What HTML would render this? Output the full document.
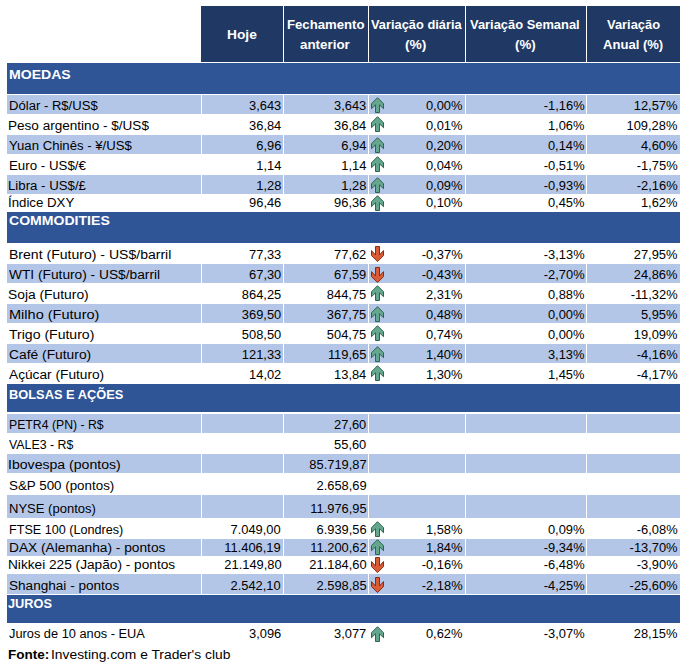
<!DOCTYPE html>
<html><head><meta charset="utf-8"><style>
html,body{margin:0;padding:0;background:#fff;width:693px;height:668px;overflow:hidden;position:relative}
.r{position:absolute}
.t{position:absolute;font-family:"Liberation Sans",sans-serif;font-size:12.5px;line-height:normal;white-space:nowrap;color:#000}
.b{font-weight:bold}
.ar{position:absolute;overflow:visible}
</style></head><body>
<div class="r" style="left:201px;top:6px;width:479px;height:56px;background:#1F3864"></div>
<div class="r" style="left:283px;top:6px;width:1px;height:56px;background:#fff"></div>
<div class="r" style="left:368px;top:6px;width:1px;height:56px;background:#fff"></div>
<div class="r" style="left:465px;top:6px;width:1px;height:56px;background:#fff"></div>
<div class="r" style="left:586px;top:6px;width:1px;height:56px;background:#fff"></div>
<div class="t b" style="left:227.26px;top:26.93px;transform:scaleX(1.0566);transform-origin:left;font-size:13px;color:#fff">Hoje</div>
<div class="t b" style="left:286.72px;top:17.13px;transform:scaleX(1.0128);transform-origin:left;font-size:13px;color:#fff">Fechamento</div>
<div class="t b" style="left:300.15px;top:36.63px;transform:scaleX(1.0289);transform-origin:left;font-size:13px;color:#fff">anterior</div>
<div class="t b" style="left:370.51px;top:16.53px;transform:scaleX(0.9874);transform-origin:left;font-size:13px;color:#fff">Variação diária</div>
<div class="t b" style="left:405.34px;top:36.84px;transform:scaleX(1.0600);transform-origin:left;font-size:13px;color:#fff">(%)</div>
<div class="t b" style="left:470.43px;top:16.53px;transform:scaleX(0.9919);transform-origin:left;font-size:13px;color:#fff">Variação Semanal</div>
<div class="t b" style="left:514.93px;top:36.84px;transform:scaleX(1.0208);transform-origin:left;font-size:13px;color:#fff">(%)</div>
<div class="t b" style="left:607.13px;top:16.53px;transform:scaleX(0.9914);transform-origin:left;font-size:13px;color:#fff">Variação</div>
<div class="t b" style="left:602.98px;top:36.84px;transform:scaleX(1.0043);transform-origin:left;font-size:13px;color:#fff">Anual (%)</div>
<div class="r" style="left:7px;top:63px;width:673px;height:31px;background:#2F5597"></div>
<div class="t b" style="left:8.76px;top:67.23px;transform:scaleX(1.0821);transform-origin:left;font-size:13px;color:#fff">MOEDAS</div>
<div class="r" style="left:7px;top:212px;width:673px;height:31px;background:#2F5597"></div>
<div class="t b" style="left:8.85px;top:213.14px;transform:scaleX(1.0817);transform-origin:left;font-size:13px;color:#fff">COMMODITIES</div>
<div class="r" style="left:7px;top:384px;width:673px;height:28px;background:#2F5597"></div>
<div class="t b" style="left:8.64px;top:387.44px;transform:scaleX(0.9873);transform-origin:left;font-size:13px;color:#fff">BOLSAS E AÇÕES</div>
<div class="r" style="left:7px;top:595px;width:673px;height:28px;background:#2F5597"></div>
<div class="t b" style="left:8.28px;top:595.53px;transform:scaleX(0.9829);transform-origin:left;font-size:13px;color:#fff">JUROS</div>
<div class="r" style="left:7px;top:95px;width:673px;height:19px;background:#B4C6E7"></div>
<div class="r" style="left:201px;top:95px;width:1px;height:19px;background:#fff"></div>
<div class="r" style="left:283px;top:95px;width:1px;height:19px;background:#fff"></div>
<div class="r" style="left:368px;top:95px;width:1px;height:19px;background:#fff"></div>
<div class="r" style="left:465px;top:95px;width:1px;height:19px;background:#fff"></div>
<div class="r" style="left:586px;top:95px;width:1px;height:19px;background:#fff"></div>
<div class="t" style="left:8.59px;top:98.99px;transform:scaleX(1.0464);transform-origin:left;color:#000">Dólar - R$/US$</div>
<div class="t" style="right:411.90px;top:98.99px;transform:scaleX(1.0300);transform-origin:right;color:#000">3,643</div>
<div class="t" style="right:326.30px;top:98.99px;transform:scaleX(1.0300);transform-origin:right;color:#000">3,643</div>
<div class="t" style="right:230.10px;top:98.99px;transform:scaleX(1.0300);transform-origin:right;color:#000">0,00%</div>
<div class="t" style="right:108.70px;top:98.99px;transform:scaleX(1.0300);transform-origin:right;color:#000">-1,16%</div>
<div class="t" style="right:15.50px;top:98.99px;transform:scaleX(1.0300);transform-origin:right;color:#000">12,57%</div>
<svg class="ar" style="left:370px;top:96px" width="15" height="18" viewBox="0 0 15 18"><path d="M7.5 1.7 L13.5 7.7 L13.5 12.7 L9.5 8.8 L9.5 16.5 L5.5 16.5 L5.5 8.8 L1.5 12.7 L1.5 7.7 Z" fill="#64A78E" stroke="#2E644D" stroke-width="1" stroke-linejoin="miter"/></svg>
<div class="t" style="left:8.45px;top:119.29px;transform:scaleX(1.0845);transform-origin:left;color:#000">Peso argentino - $/US$</div>
<div class="t" style="right:411.90px;top:119.29px;transform:scaleX(1.0300);transform-origin:right;color:#000">36,84</div>
<div class="t" style="right:326.30px;top:119.29px;transform:scaleX(1.0300);transform-origin:right;color:#000">36,84</div>
<div class="t" style="right:230.10px;top:119.29px;transform:scaleX(1.0300);transform-origin:right;color:#000">0,01%</div>
<div class="t" style="right:108.70px;top:119.29px;transform:scaleX(1.0300);transform-origin:right;color:#000">1,06%</div>
<div class="t" style="right:15.50px;top:119.29px;transform:scaleX(1.0300);transform-origin:right;color:#000">109,28%</div>
<svg class="ar" style="left:370px;top:115px" width="15" height="18" viewBox="0 0 15 18"><path d="M7.5 1.7 L13.5 7.7 L13.5 12.7 L9.5 8.8 L9.5 16.5 L5.5 16.5 L5.5 8.8 L1.5 12.7 L1.5 7.7 Z" fill="#64A78E" stroke="#2E644D" stroke-width="1" stroke-linejoin="miter"/></svg>
<div class="r" style="left:7px;top:135px;width:673px;height:19px;background:#B4C6E7"></div>
<div class="r" style="left:201px;top:135px;width:1px;height:19px;background:#fff"></div>
<div class="r" style="left:283px;top:135px;width:1px;height:19px;background:#fff"></div>
<div class="r" style="left:368px;top:135px;width:1px;height:19px;background:#fff"></div>
<div class="r" style="left:465px;top:135px;width:1px;height:19px;background:#fff"></div>
<div class="r" style="left:586px;top:135px;width:1px;height:19px;background:#fff"></div>
<div class="t" style="left:9.33px;top:138.89px;transform:scaleX(1.0519);transform-origin:left;color:#000">Yuan Chinês - ¥/US$</div>
<div class="t" style="right:411.90px;top:138.89px;transform:scaleX(1.0300);transform-origin:right;color:#000">6,96</div>
<div class="t" style="right:326.30px;top:138.89px;transform:scaleX(1.0300);transform-origin:right;color:#000">6,94</div>
<div class="t" style="right:230.10px;top:138.89px;transform:scaleX(1.0300);transform-origin:right;color:#000">0,20%</div>
<div class="t" style="right:108.70px;top:138.89px;transform:scaleX(1.0300);transform-origin:right;color:#000">0,14%</div>
<div class="t" style="right:15.50px;top:138.89px;transform:scaleX(1.0300);transform-origin:right;color:#000">4,60%</div>
<svg class="ar" style="left:370px;top:136px" width="15" height="18" viewBox="0 0 15 18"><path d="M7.5 1.7 L13.5 7.7 L13.5 12.7 L9.5 8.8 L9.5 16.5 L5.5 16.5 L5.5 8.8 L1.5 12.7 L1.5 7.7 Z" fill="#64A78E" stroke="#2E644D" stroke-width="1" stroke-linejoin="miter"/></svg>
<div class="t" style="left:8.67px;top:158.89px;transform:scaleX(1.0641);transform-origin:left;color:#000">Euro - US$/€</div>
<div class="t" style="right:411.90px;top:158.89px;transform:scaleX(1.0300);transform-origin:right;color:#000">1,14</div>
<div class="t" style="right:326.30px;top:158.89px;transform:scaleX(1.0300);transform-origin:right;color:#000">1,14</div>
<div class="t" style="right:230.10px;top:158.89px;transform:scaleX(1.0300);transform-origin:right;color:#000">0,04%</div>
<div class="t" style="right:108.70px;top:158.89px;transform:scaleX(1.0300);transform-origin:right;color:#000">-0,51%</div>
<div class="t" style="right:15.50px;top:158.89px;transform:scaleX(1.0300);transform-origin:right;color:#000">-1,75%</div>
<svg class="ar" style="left:370px;top:155px" width="15" height="18" viewBox="0 0 15 18"><path d="M7.5 1.7 L13.5 7.7 L13.5 12.7 L9.5 8.8 L9.5 16.5 L5.5 16.5 L5.5 8.8 L1.5 12.7 L1.5 7.7 Z" fill="#64A78E" stroke="#2E644D" stroke-width="1" stroke-linejoin="miter"/></svg>
<div class="r" style="left:7px;top:175px;width:673px;height:19px;background:#B4C6E7"></div>
<div class="r" style="left:201px;top:175px;width:1px;height:19px;background:#fff"></div>
<div class="r" style="left:283px;top:175px;width:1px;height:19px;background:#fff"></div>
<div class="r" style="left:368px;top:175px;width:1px;height:19px;background:#fff"></div>
<div class="r" style="left:465px;top:175px;width:1px;height:19px;background:#fff"></div>
<div class="r" style="left:586px;top:175px;width:1px;height:19px;background:#fff"></div>
<div class="t" style="left:8.46px;top:178.59px;transform:scaleX(1.0585);transform-origin:left;color:#000">Libra - US$/£</div>
<div class="t" style="right:411.90px;top:178.59px;transform:scaleX(1.0300);transform-origin:right;color:#000">1,28</div>
<div class="t" style="right:326.30px;top:178.59px;transform:scaleX(1.0300);transform-origin:right;color:#000">1,28</div>
<div class="t" style="right:230.10px;top:178.59px;transform:scaleX(1.0300);transform-origin:right;color:#000">0,09%</div>
<div class="t" style="right:108.70px;top:178.59px;transform:scaleX(1.0300);transform-origin:right;color:#000">-0,93%</div>
<div class="t" style="right:15.50px;top:178.59px;transform:scaleX(1.0300);transform-origin:right;color:#000">-2,16%</div>
<svg class="ar" style="left:370px;top:176px" width="15" height="18" viewBox="0 0 15 18"><path d="M7.5 1.7 L13.5 7.7 L13.5 12.7 L9.5 8.8 L9.5 16.5 L5.5 16.5 L5.5 8.8 L1.5 12.7 L1.5 7.7 Z" fill="#64A78E" stroke="#2E644D" stroke-width="1" stroke-linejoin="miter"/></svg>
<div class="t" style="left:7.95px;top:196.29px;transform:scaleX(1.0595);transform-origin:left;color:#000">Índice DXY</div>
<div class="t" style="right:411.90px;top:196.29px;transform:scaleX(1.0300);transform-origin:right;color:#000">96,46</div>
<div class="t" style="right:326.30px;top:196.29px;transform:scaleX(1.0300);transform-origin:right;color:#000">96,36</div>
<div class="t" style="right:230.10px;top:196.29px;transform:scaleX(1.0300);transform-origin:right;color:#000">0,10%</div>
<div class="t" style="right:108.70px;top:196.29px;transform:scaleX(1.0300);transform-origin:right;color:#000">0,45%</div>
<div class="t" style="right:15.50px;top:196.29px;transform:scaleX(1.0300);transform-origin:right;color:#000">1,62%</div>
<svg class="ar" style="left:370px;top:194px" width="15" height="18" viewBox="0 0 15 18"><path d="M7.5 1.7 L13.5 7.7 L13.5 12.7 L9.5 8.8 L9.5 16.5 L5.5 16.5 L5.5 8.8 L1.5 12.7 L1.5 7.7 Z" fill="#64A78E" stroke="#2E644D" stroke-width="1" stroke-linejoin="miter"/></svg>
<div class="t" style="left:8.63px;top:247.89px;transform:scaleX(1.1237);transform-origin:left;color:#000">Brent (Futuro) - US$/barril</div>
<div class="t" style="right:411.90px;top:247.89px;transform:scaleX(1.0300);transform-origin:right;color:#000">77,33</div>
<div class="t" style="right:326.30px;top:247.89px;transform:scaleX(1.0300);transform-origin:right;color:#000">77,62</div>
<div class="t" style="right:230.10px;top:247.89px;transform:scaleX(1.0300);transform-origin:right;color:#000">-0,37%</div>
<div class="t" style="right:108.70px;top:247.89px;transform:scaleX(1.0300);transform-origin:right;color:#000">-3,13%</div>
<div class="t" style="right:15.50px;top:247.89px;transform:scaleX(1.0300);transform-origin:right;color:#000">27,95%</div>
<svg class="ar" style="left:370px;top:244px" width="15" height="18" viewBox="0 0 15 18"><path d="M5.5 2.5 L9.5 2.5 L9.5 11.0 L13.5 6.6 L13.5 11.6 L7.5 17.6 L1.5 11.6 L1.5 6.6 L5.5 11.0 Z" fill="#D95B38" stroke="#872D14" stroke-width="1" stroke-linejoin="miter"/></svg>
<div class="r" style="left:7px;top:264px;width:673px;height:19px;background:#B4C6E7"></div>
<div class="r" style="left:201px;top:264px;width:1px;height:19px;background:#fff"></div>
<div class="r" style="left:283px;top:264px;width:1px;height:19px;background:#fff"></div>
<div class="r" style="left:368px;top:264px;width:1px;height:19px;background:#fff"></div>
<div class="r" style="left:465px;top:264px;width:1px;height:19px;background:#fff"></div>
<div class="r" style="left:586px;top:264px;width:1px;height:19px;background:#fff"></div>
<div class="t" style="left:9.32px;top:268.49px;transform:scaleX(1.0985);transform-origin:left;color:#000">WTI (Futuro) - US$/barril</div>
<div class="t" style="right:411.90px;top:268.49px;transform:scaleX(1.0300);transform-origin:right;color:#000">67,30</div>
<div class="t" style="right:326.30px;top:268.49px;transform:scaleX(1.0300);transform-origin:right;color:#000">67,59</div>
<div class="t" style="right:230.10px;top:268.49px;transform:scaleX(1.0300);transform-origin:right;color:#000">-0,43%</div>
<div class="t" style="right:108.70px;top:268.49px;transform:scaleX(1.0300);transform-origin:right;color:#000">-2,70%</div>
<div class="t" style="right:15.50px;top:268.49px;transform:scaleX(1.0300);transform-origin:right;color:#000">24,86%</div>
<svg class="ar" style="left:370px;top:265px" width="15" height="18" viewBox="0 0 15 18"><path d="M5.5 2.5 L9.5 2.5 L9.5 11.0 L13.5 6.6 L13.5 11.6 L7.5 17.6 L1.5 11.6 L1.5 6.6 L5.5 11.0 Z" fill="#D95B38" stroke="#872D14" stroke-width="1" stroke-linejoin="miter"/></svg>
<div class="t" style="left:8.31px;top:288.39px;transform:scaleX(1.1060);transform-origin:left;color:#000">Soja (Futuro)</div>
<div class="t" style="right:411.90px;top:288.39px;transform:scaleX(1.0300);transform-origin:right;color:#000">864,25</div>
<div class="t" style="right:326.30px;top:288.39px;transform:scaleX(1.0300);transform-origin:right;color:#000">844,75</div>
<div class="t" style="right:230.10px;top:288.39px;transform:scaleX(1.0300);transform-origin:right;color:#000">2,31%</div>
<div class="t" style="right:108.70px;top:288.39px;transform:scaleX(1.0300);transform-origin:right;color:#000">0,88%</div>
<div class="t" style="right:15.50px;top:288.39px;transform:scaleX(1.0300);transform-origin:right;color:#000">-11,32%</div>
<svg class="ar" style="left:370px;top:284px" width="15" height="18" viewBox="0 0 15 18"><path d="M7.5 1.7 L13.5 7.7 L13.5 12.7 L9.5 8.8 L9.5 16.5 L5.5 16.5 L5.5 8.8 L1.5 12.7 L1.5 7.7 Z" fill="#64A78E" stroke="#2E644D" stroke-width="1" stroke-linejoin="miter"/></svg>
<div class="r" style="left:7px;top:304px;width:673px;height:19px;background:#B4C6E7"></div>
<div class="r" style="left:201px;top:304px;width:1px;height:19px;background:#fff"></div>
<div class="r" style="left:283px;top:304px;width:1px;height:19px;background:#fff"></div>
<div class="r" style="left:368px;top:304px;width:1px;height:19px;background:#fff"></div>
<div class="r" style="left:465px;top:304px;width:1px;height:19px;background:#fff"></div>
<div class="r" style="left:586px;top:304px;width:1px;height:19px;background:#fff"></div>
<div class="t" style="left:8.74px;top:308.39px;transform:scaleX(1.1621);transform-origin:left;color:#000">Milho (Futuro)</div>
<div class="t" style="right:411.90px;top:308.39px;transform:scaleX(1.0300);transform-origin:right;color:#000">369,50</div>
<div class="t" style="right:326.30px;top:308.39px;transform:scaleX(1.0300);transform-origin:right;color:#000">367,75</div>
<div class="t" style="right:230.10px;top:308.39px;transform:scaleX(1.0300);transform-origin:right;color:#000">0,48%</div>
<div class="t" style="right:108.70px;top:308.39px;transform:scaleX(1.0300);transform-origin:right;color:#000">0,00%</div>
<div class="t" style="right:15.50px;top:308.39px;transform:scaleX(1.0300);transform-origin:right;color:#000">5,95%</div>
<svg class="ar" style="left:370px;top:305px" width="15" height="18" viewBox="0 0 15 18"><path d="M7.5 1.7 L13.5 7.7 L13.5 12.7 L9.5 8.8 L9.5 16.5 L5.5 16.5 L5.5 8.8 L1.5 12.7 L1.5 7.7 Z" fill="#64A78E" stroke="#2E644D" stroke-width="1" stroke-linejoin="miter"/></svg>
<div class="t" style="left:8.94px;top:328.09px;transform:scaleX(1.1239);transform-origin:left;color:#000">Trigo (Futuro)</div>
<div class="t" style="right:411.90px;top:328.09px;transform:scaleX(1.0300);transform-origin:right;color:#000">508,50</div>
<div class="t" style="right:326.30px;top:328.09px;transform:scaleX(1.0300);transform-origin:right;color:#000">504,75</div>
<div class="t" style="right:230.10px;top:328.09px;transform:scaleX(1.0300);transform-origin:right;color:#000">0,74%</div>
<div class="t" style="right:108.70px;top:328.09px;transform:scaleX(1.0300);transform-origin:right;color:#000">0,00%</div>
<div class="t" style="right:15.50px;top:328.09px;transform:scaleX(1.0300);transform-origin:right;color:#000">19,09%</div>
<svg class="ar" style="left:370px;top:324px" width="15" height="18" viewBox="0 0 15 18"><path d="M7.5 1.7 L13.5 7.7 L13.5 12.7 L9.5 8.8 L9.5 16.5 L5.5 16.5 L5.5 8.8 L1.5 12.7 L1.5 7.7 Z" fill="#64A78E" stroke="#2E644D" stroke-width="1" stroke-linejoin="miter"/></svg>
<div class="r" style="left:7px;top:344px;width:673px;height:19px;background:#B4C6E7"></div>
<div class="r" style="left:201px;top:344px;width:1px;height:19px;background:#fff"></div>
<div class="r" style="left:283px;top:344px;width:1px;height:19px;background:#fff"></div>
<div class="r" style="left:368px;top:344px;width:1px;height:19px;background:#fff"></div>
<div class="r" style="left:465px;top:344px;width:1px;height:19px;background:#fff"></div>
<div class="r" style="left:586px;top:344px;width:1px;height:19px;background:#fff"></div>
<div class="t" style="left:8.73px;top:347.79px;transform:scaleX(1.1054);transform-origin:left;color:#000">Café (Futuro)</div>
<div class="t" style="right:411.90px;top:347.79px;transform:scaleX(1.0300);transform-origin:right;color:#000">121,33</div>
<div class="t" style="right:326.30px;top:347.79px;transform:scaleX(1.0300);transform-origin:right;color:#000">119,65</div>
<div class="t" style="right:230.10px;top:347.79px;transform:scaleX(1.0300);transform-origin:right;color:#000">1,40%</div>
<div class="t" style="right:108.70px;top:347.79px;transform:scaleX(1.0300);transform-origin:right;color:#000">3,13%</div>
<div class="t" style="right:15.50px;top:347.79px;transform:scaleX(1.0300);transform-origin:right;color:#000">-4,16%</div>
<svg class="ar" style="left:370px;top:345px" width="15" height="18" viewBox="0 0 15 18"><path d="M7.5 1.7 L13.5 7.7 L13.5 12.7 L9.5 8.8 L9.5 16.5 L5.5 16.5 L5.5 8.8 L1.5 12.7 L1.5 7.7 Z" fill="#64A78E" stroke="#2E644D" stroke-width="1" stroke-linejoin="miter"/></svg>
<div class="t" style="left:8.95px;top:367.79px;transform:scaleX(1.0961);transform-origin:left;color:#000">Açúcar (Futuro)</div>
<div class="t" style="right:411.90px;top:367.79px;transform:scaleX(1.0300);transform-origin:right;color:#000">14,02</div>
<div class="t" style="right:326.30px;top:367.79px;transform:scaleX(1.0300);transform-origin:right;color:#000">13,84</div>
<div class="t" style="right:230.10px;top:367.79px;transform:scaleX(1.0300);transform-origin:right;color:#000">1,30%</div>
<div class="t" style="right:108.70px;top:367.79px;transform:scaleX(1.0300);transform-origin:right;color:#000">1,45%</div>
<div class="t" style="right:15.50px;top:367.79px;transform:scaleX(1.0300);transform-origin:right;color:#000">-4,17%</div>
<svg class="ar" style="left:370px;top:364px" width="15" height="18" viewBox="0 0 15 18"><path d="M7.5 1.7 L13.5 7.7 L13.5 12.7 L9.5 8.8 L9.5 16.5 L5.5 16.5 L5.5 8.8 L1.5 12.7 L1.5 7.7 Z" fill="#64A78E" stroke="#2E644D" stroke-width="1" stroke-linejoin="miter"/></svg>
<div class="r" style="left:7px;top:414px;width:673px;height:19px;background:#B4C6E7"></div>
<div class="r" style="left:201px;top:414px;width:1px;height:19px;background:#fff"></div>
<div class="r" style="left:283px;top:414px;width:1px;height:19px;background:#fff"></div>
<div class="r" style="left:368px;top:414px;width:1px;height:19px;background:#fff"></div>
<div class="r" style="left:465px;top:414px;width:1px;height:19px;background:#fff"></div>
<div class="r" style="left:586px;top:414px;width:1px;height:19px;background:#fff"></div>
<div class="t" style="left:8.59px;top:418.29px;transform:scaleX(0.9799);transform-origin:left;color:#000">PETR4 (PN) - R$</div>
<div class="t" style="right:326.30px;top:418.29px;transform:scaleX(1.0300);transform-origin:right;color:#000">27,60</div>
<div class="t" style="left:8.95px;top:437.99px;transform:scaleX(0.9897);transform-origin:left;color:#000">VALE3 - R$</div>
<div class="t" style="right:326.30px;top:437.99px;transform:scaleX(1.0300);transform-origin:right;color:#000">55,60</div>
<div class="r" style="left:7px;top:454px;width:673px;height:19px;background:#B4C6E7"></div>
<div class="r" style="left:201px;top:454px;width:1px;height:19px;background:#fff"></div>
<div class="r" style="left:283px;top:454px;width:1px;height:19px;background:#fff"></div>
<div class="r" style="left:368px;top:454px;width:1px;height:19px;background:#fff"></div>
<div class="r" style="left:465px;top:454px;width:1px;height:19px;background:#fff"></div>
<div class="r" style="left:586px;top:454px;width:1px;height:19px;background:#fff"></div>
<div class="t" style="left:8.47px;top:458.19px;transform:scaleX(1.1270);transform-origin:left;color:#000">Ibovespa (pontos)</div>
<div class="t" style="right:326.30px;top:458.19px;transform:scaleX(1.0300);transform-origin:right;color:#000">85.719,87</div>
<div class="t" style="left:8.67px;top:478.79px;transform:scaleX(1.0693);transform-origin:left;color:#000">S&amp;P 500 (pontos)</div>
<div class="t" style="right:326.30px;top:478.79px;transform:scaleX(1.0300);transform-origin:right;color:#000">2.658,69</div>
<div class="r" style="left:7px;top:495px;width:673px;height:23px;background:#B4C6E7"></div>
<div class="r" style="left:201px;top:495px;width:1px;height:23px;background:#fff"></div>
<div class="r" style="left:283px;top:495px;width:1px;height:23px;background:#fff"></div>
<div class="r" style="left:368px;top:495px;width:1px;height:23px;background:#fff"></div>
<div class="r" style="left:465px;top:495px;width:1px;height:23px;background:#fff"></div>
<div class="r" style="left:586px;top:495px;width:1px;height:23px;background:#fff"></div>
<div class="t" style="left:8.59px;top:501.79px;transform:scaleX(1.0428);transform-origin:left;color:#000">NYSE (pontos)</div>
<div class="t" style="right:326.30px;top:501.79px;transform:scaleX(1.0300);transform-origin:right;color:#000">11.976,95</div>
<div class="t" style="left:8.66px;top:522.89px;transform:scaleX(1.0086);transform-origin:left;color:#000">FTSE 100 (Londres)</div>
<div class="t" style="right:411.90px;top:522.89px;transform:scaleX(1.0300);transform-origin:right;color:#000">7.049,00</div>
<div class="t" style="right:326.30px;top:522.89px;transform:scaleX(1.0300);transform-origin:right;color:#000">6.939,56</div>
<div class="t" style="right:230.10px;top:522.89px;transform:scaleX(1.0300);transform-origin:right;color:#000">1,58%</div>
<div class="t" style="right:108.70px;top:522.89px;transform:scaleX(1.0300);transform-origin:right;color:#000">0,09%</div>
<div class="t" style="right:15.50px;top:522.89px;transform:scaleX(1.0300);transform-origin:right;color:#000">-6,08%</div>
<svg class="ar" style="left:370px;top:520px" width="15" height="18" viewBox="0 0 15 18"><path d="M7.5 1.7 L13.5 7.7 L13.5 12.7 L9.5 8.8 L9.5 16.5 L5.5 16.5 L5.5 8.8 L1.5 12.7 L1.5 7.7 Z" fill="#64A78E" stroke="#2E644D" stroke-width="1" stroke-linejoin="miter"/></svg>
<div class="r" style="left:7px;top:539px;width:673px;height:17px;background:#B4C6E7"></div>
<div class="r" style="left:201px;top:539px;width:1px;height:17px;background:#fff"></div>
<div class="r" style="left:283px;top:539px;width:1px;height:17px;background:#fff"></div>
<div class="r" style="left:368px;top:539px;width:1px;height:17px;background:#fff"></div>
<div class="r" style="left:465px;top:539px;width:1px;height:17px;background:#fff"></div>
<div class="r" style="left:586px;top:539px;width:1px;height:17px;background:#fff"></div>
<div class="t" style="left:9.04px;top:540.89px;transform:scaleX(1.0984);transform-origin:left;color:#000">DAX (Alemanha) - pontos</div>
<div class="t" style="right:411.90px;top:540.89px;transform:scaleX(1.0300);transform-origin:right;color:#000">11.406,19</div>
<div class="t" style="right:326.30px;top:540.89px;transform:scaleX(1.0300);transform-origin:right;color:#000">11.200,62</div>
<div class="t" style="right:230.10px;top:540.89px;transform:scaleX(1.0300);transform-origin:right;color:#000">1,84%</div>
<div class="t" style="right:108.70px;top:540.89px;transform:scaleX(1.0300);transform-origin:right;color:#000">-9,34%</div>
<div class="t" style="right:15.50px;top:540.89px;transform:scaleX(1.0300);transform-origin:right;color:#000">-13,70%</div>
<svg class="ar" style="left:370px;top:538px" width="15" height="18" viewBox="0 0 15 18"><path d="M7.5 1.7 L13.5 7.7 L13.5 12.7 L9.5 8.8 L9.5 16.5 L5.5 16.5 L5.5 8.8 L1.5 12.7 L1.5 7.7 Z" fill="#64A78E" stroke="#2E644D" stroke-width="1" stroke-linejoin="miter"/></svg>
<div class="t" style="left:8.28px;top:557.69px;transform:scaleX(1.0936);transform-origin:left;color:#000">Nikkei 225 (Japão) - pontos</div>
<div class="t" style="right:411.90px;top:557.69px;transform:scaleX(1.0300);transform-origin:right;color:#000">21.149,80</div>
<div class="t" style="right:326.30px;top:557.69px;transform:scaleX(1.0300);transform-origin:right;color:#000">21.184,60</div>
<div class="t" style="right:230.10px;top:557.69px;transform:scaleX(1.0300);transform-origin:right;color:#000">-0,16%</div>
<div class="t" style="right:108.70px;top:557.69px;transform:scaleX(1.0300);transform-origin:right;color:#000">-6,48%</div>
<div class="t" style="right:15.50px;top:557.69px;transform:scaleX(1.0300);transform-origin:right;color:#000">-3,90%</div>
<svg class="ar" style="left:370px;top:555px" width="15" height="18" viewBox="0 0 15 18"><path d="M5.5 2.5 L9.5 2.5 L9.5 11.0 L13.5 6.6 L13.5 11.6 L7.5 17.6 L1.5 11.6 L1.5 6.6 L5.5 11.0 Z" fill="#D95B38" stroke="#872D14" stroke-width="1" stroke-linejoin="miter"/></svg>
<div class="r" style="left:7px;top:574px;width:673px;height:20px;background:#B4C6E7"></div>
<div class="r" style="left:201px;top:574px;width:1px;height:20px;background:#fff"></div>
<div class="r" style="left:283px;top:574px;width:1px;height:20px;background:#fff"></div>
<div class="r" style="left:368px;top:574px;width:1px;height:20px;background:#fff"></div>
<div class="r" style="left:465px;top:574px;width:1px;height:20px;background:#fff"></div>
<div class="r" style="left:586px;top:574px;width:1px;height:20px;background:#fff"></div>
<div class="t" style="left:8.89px;top:578.99px;transform:scaleX(1.0861);transform-origin:left;color:#000">Shanghai - pontos</div>
<div class="t" style="right:411.90px;top:578.99px;transform:scaleX(1.0300);transform-origin:right;color:#000">2.542,10</div>
<div class="t" style="right:326.30px;top:578.99px;transform:scaleX(1.0300);transform-origin:right;color:#000">2.598,85</div>
<div class="t" style="right:230.10px;top:578.99px;transform:scaleX(1.0300);transform-origin:right;color:#000">-2,18%</div>
<div class="t" style="right:108.70px;top:578.99px;transform:scaleX(1.0300);transform-origin:right;color:#000">-4,25%</div>
<div class="t" style="right:15.50px;top:578.99px;transform:scaleX(1.0300);transform-origin:right;color:#000">-25,60%</div>
<svg class="ar" style="left:370px;top:575px" width="15" height="18" viewBox="0 0 15 18"><path d="M5.5 2.5 L9.5 2.5 L9.5 11.0 L13.5 6.6 L13.5 11.6 L7.5 17.6 L1.5 11.6 L1.5 6.6 L5.5 11.0 Z" fill="#D95B38" stroke="#872D14" stroke-width="1" stroke-linejoin="miter"/></svg>
<div class="t" style="left:8.91px;top:627.29px;transform:scaleX(1.0237);transform-origin:left;color:#000">Juros de 10 anos - EUA</div>
<div class="t" style="right:411.90px;top:627.29px;transform:scaleX(1.0300);transform-origin:right;color:#000">3,096</div>
<div class="t" style="right:326.30px;top:627.29px;transform:scaleX(1.0300);transform-origin:right;color:#000">3,077</div>
<div class="t" style="right:230.10px;top:627.29px;transform:scaleX(1.0300);transform-origin:right;color:#000">0,62%</div>
<div class="t" style="right:108.70px;top:627.29px;transform:scaleX(1.0300);transform-origin:right;color:#000">-3,07%</div>
<div class="t" style="right:15.50px;top:627.29px;transform:scaleX(1.0300);transform-origin:right;color:#000">28,15%</div>
<svg class="ar" style="left:370px;top:625px" width="15" height="18" viewBox="0 0 15 18"><path d="M7.5 1.7 L13.5 7.7 L13.5 12.7 L9.5 8.8 L9.5 16.5 L5.5 16.5 L5.5 8.8 L1.5 12.7 L1.5 7.7 Z" fill="#64A78E" stroke="#2E644D" stroke-width="1" stroke-linejoin="miter"/></svg>
<div class="t b" style="left:8.39px;top:646.83px;transform:scaleX(1.0414);transform-origin:left;font-size:13px;color:#000">Fonte:</div>
<div class="t" style="left:51.32px;top:648.19px;transform:scaleX(1.1059);transform-origin:left;color:#000">Investing.com e Trader's club</div>
</body></html>
